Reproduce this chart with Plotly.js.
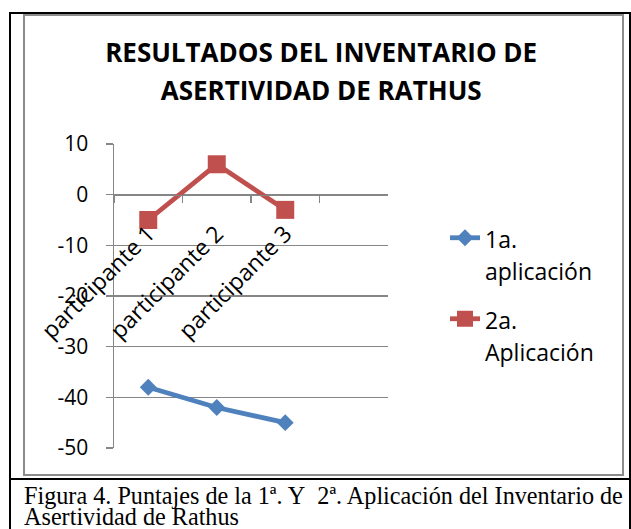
<!DOCTYPE html>
<html>
<head>
<meta charset="utf-8">
<script src="https://cdn.plot.ly/plotly-3.0.1.min.js"></script>
<style>
  html, body { margin:0; padding:0; background:#fff; }
  body { width:631px; height:529px; position:relative; overflow:hidden; }
  .ln { position:absolute; background:#000; }
  #grayBox { position:absolute; left:23px; top:14px; width:597px; height:458px; border:2px solid #8c8c8c; }
  #chart { position:absolute; left:0; top:0; width:631px; height:529px; z-index:2; }
  #caption { position:absolute; left:24px; top:485px; width:605px; font-family:"Liberation Serif","Times New Roman",serif; font-size:24.2px; line-height:21px; color:#000; z-index:3; white-space:nowrap; }
</style>
</head>
<body>
<div id="grayBox"></div>
<div class="ln" style="left:9px;top:12px;width:2px;height:517px;"></div>
<div class="ln" style="left:9px;top:12px;width:622px;height:2px;"></div>
<div class="ln" style="left:629px;top:12px;width:2px;height:517px;"></div>
<div class="ln" style="left:9px;top:478px;width:622px;height:2px;"></div>
<div id="chart"></div>
<div id="caption">Figura 4. Puntajes de la 1ª. Y&nbsp; 2ª. Aplicación del Inventario de<br>Asertividad de Rathus</div>
<script>
const categories = ['participante 1', 'participante 2', 'participante 3'];
const aplicacion1 = [-38, -42, -45];
const aplicacion2 = [-5, 6, -3];
const seriesNames = ['1a.', 'aplicación', '2a.', 'Aplicación'];
const yTicks = [10, 0, -10, -20, -30, -40, -50];
const yTickLabels = ['10', '0', '-10', '-20', '-30', '-40', '-50'];
const titleLines = ['RESULTADOS DEL INVENTARIO DE', 'ASERTIVIDAD DE RATHUS'];

const yMin = -50, yMax = 10;
const zeroFrac = (0 - yMin) / (yMax - yMin);
const gridCol = '#868686';
const FONT = '"Open Sans", Lato, sans-serif';
const sp = (t, s) => "<span style='font-size:" + s + "px'>" + t + "</span>";

const traces = [
  {
    type: 'scatter', mode: 'lines+markers', x: categories, y: aplicacion1,
    name: sp(seriesNames[0], 23) + '<br>' + sp(seriesNames[1], 23),
    legendgroup: 'a',
    line: { color: '#4F81BD', width: 4.8 },
    marker: { symbol: 'diamond', size: 13, color: '#4F81BD' }
  },
  {
    type: 'scatter', mode: 'lines+markers', x: categories, y: aplicacion2,
    name: sp(seriesNames[2], 23) + '<br>' + sp(seriesNames[3], 23),
    legendgroup: 'b',
    line: { color: '#C0504D', width: 4.8 },
    marker: { symbol: 'square', size: 18, color: '#C0504D' }
  }
];

const layout = {
  width: 631, height: 529,
  margin: { l: 114, r: 243, t: 144, b: 81, pad: 0 },
  paper_bgcolor: 'rgba(0,0,0,0)', plot_bgcolor: 'rgba(0,0,0,0)',
  font: { family: FONT, color: '#000' },
  title: {
    text: sp(titleLines[0], 26) + '<br>' + sp(titleLines[1], 26),
    font: { family: FONT, size: 29, weight: 'bold', color: '#000' },
    xref: 'container', x: 0.509, xanchor: 'center',
    yref: 'container', y: 1 - 62 / 529, yanchor: 'top'
  },
  xaxis: {
    type: 'category', categoryorder: 'array', categoryarray: categories,
    range: [-0.5, 3.5], anchor: 'free', position: zeroFrac,
    tickson: 'boundaries', ticks: 'outside', ticklen: 7, tickwidth: 1.5, tickcolor: gridCol,
    showline: true, linecolor: gridCol, linewidth: 1.5,
    showgrid: false, zeroline: false, tickangle: -45,
    ticklabelstandoff: 15,
    tickfont: { family: FONT, size: 23, color: '#000' }
  },
  yaxis: {
    range: [yMin, yMax], tickmode: 'array', tickvals: yTicks, ticktext: yTickLabels,
    showgrid: true, gridcolor: gridCol, gridwidth: 1.5,
    ticks: 'outside', ticklen: 7, tickwidth: 1.5, tickcolor: gridCol,
    showline: true, linecolor: gridCol, linewidth: 1.5, zeroline: false,
    ticklabelstandoff: 13,
    tickfont: { family: FONT, size: 21, color: '#000' }
  },
  showlegend: true,
  legend: {
    xref: 'container', x: 445 / 631, xanchor: 'left',
    yref: 'container', y: 1 - 215 / 529, yanchor: 'top',
    font: { family: FONT, size: 25, color: '#000' },
    valign: 'top', traceorder: 'grouped', tracegroupgap: 13,
    bgcolor: 'rgba(0,0,0,0)', borderwidth: 0
  }
};

Plotly.newPlot('chart', traces, layout, { displayModeBar: false, staticPlot: true });
</script>
</body>
</html>
